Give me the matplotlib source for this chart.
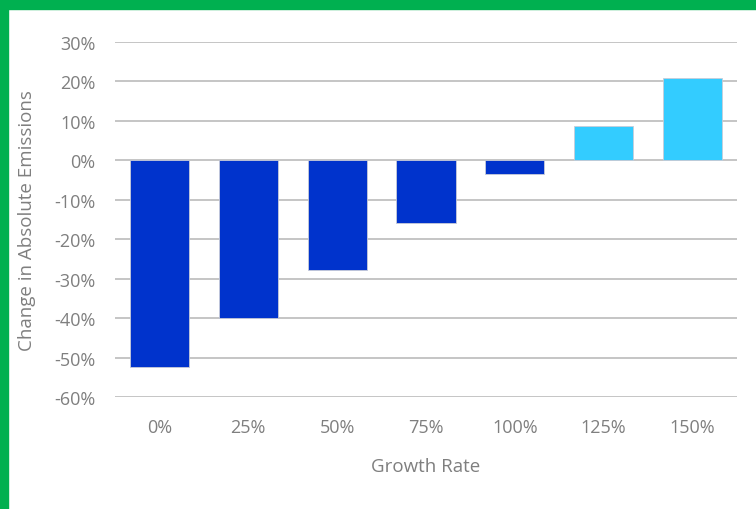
import matplotlib
matplotlib.use("Agg")
import matplotlib.pyplot as plt
from matplotlib.patches import Rectangle
from matplotlib.ticker import FuncFormatter

categories = ["0%", "25%", "50%", "75%", "100%", "125%", "150%"]
change_pct = [-52.3, -40.0, -27.8, -15.8, -3.4, 8.7, 21.0]
yticks = [-60, -50, -40, -30, -20, -10, 0, 10, 20, 30]

dark_blue = "#0033CC"
light_blue = "#33CCFF"
text_gray = "#7F7F7F"
grid_gray = "#C0C0C0"
frame_green = "#00B050"

plt.rcParams["font.family"] = ["Open Sans", "DejaVu Sans"]

fig = plt.figure(figsize=(7.56, 5.10), dpi=100)
ax = fig.add_axes([115 / 756, 1 - 398 / 510, 622 / 756, 355 / 510])

colors = [dark_blue if v < 0 else light_blue for v in change_pct]
x = list(range(len(categories)))
ax.bar(x, change_pct, width=0.665, color=colors, edgecolor="#C8CCD8",
       linewidth=0.6, zorder=3)

ax.set_xlim(-0.5, len(categories) - 0.5)
ax.set_ylim(-60, 30)
ax.set_yticks(yticks)
ax.yaxis.set_major_formatter(FuncFormatter(lambda v, _: f"{v:.0f}%"))
ax.set_xticks(x)
ax.set_xticklabels(categories)

ax.grid(axis="y", color=grid_gray, linewidth=1.3, zorder=0)
ax.set_axisbelow(True)
for s in ax.spines.values():
    s.set_visible(False)
ax.tick_params(axis="both", length=0, colors=text_gray, labelsize=13)
ax.tick_params(axis="y", pad=14)
ax.tick_params(axis="x", pad=15)

ax.set_xlabel("Growth Rate", color=text_gray, fontsize=13.5, labelpad=15)
ax.set_ylabel("Change in Absolute Emissions", color=text_gray, fontsize=13.5,
              labelpad=13)

# green frame along the top and left edges
fig.patches.append(Rectangle((0, 1 - 10 / 510), 1, 10 / 510,
                             transform=fig.transFigure, color=frame_green,
                             zorder=10))
fig.patches.append(Rectangle((0, 0), 8 / 756, 1,
                             transform=fig.transFigure, color=frame_green,
                             zorder=10))

fig.savefig("out.png", dpi=100)
